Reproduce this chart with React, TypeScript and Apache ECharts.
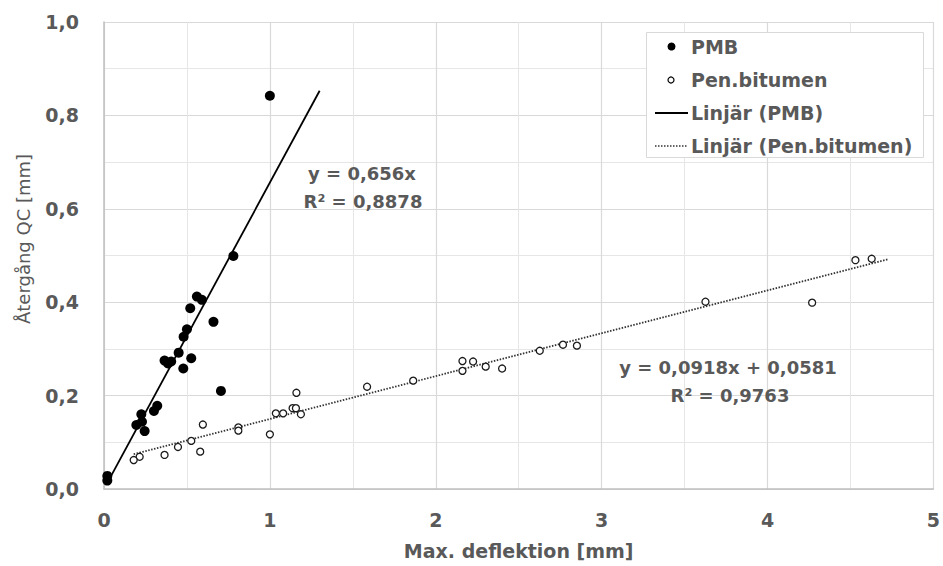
import React, { useEffect, useRef } from "react";
import * as echarts from "echarts";

// PMB observations [Max. deflektion, Återgång QC]
const pmbX = [1.0, 0.78, 0.56, 0.59, 0.52, 0.66, 0.5, 0.48, 0.45, 0.365, 0.405, 0.386, 0.526, 0.478, 0.705, 0.321, 0.301, 0.225, 0.229, 0.195, 0.245, 0.02, 0.02];
const pmbY = [0.842, 0.499, 0.412, 0.405, 0.387, 0.358, 0.342, 0.326, 0.292, 0.275, 0.273, 0.269, 0.28, 0.258, 0.21, 0.178, 0.167, 0.16, 0.144, 0.137, 0.124, 0.018, 0.028];

// Pen.bitumen observations
const penX = [0.596, 0.526, 0.446, 0.365, 0.215, 0.179, 0.58, 0.81, 0.81, 1.0, 1.036, 1.08, 1.137, 1.157, 1.16, 1.187, 1.586, 1.864, 2.161, 2.225, 2.161, 2.301, 2.4, 2.627, 2.767, 2.851, 3.626, 4.269, 4.53, 4.628];
const penY = [0.138, 0.103, 0.09, 0.073, 0.069, 0.062, 0.08, 0.132, 0.125, 0.117, 0.162, 0.162, 0.173, 0.173, 0.206, 0.16, 0.219, 0.232, 0.274, 0.273, 0.253, 0.262, 0.258, 0.296, 0.309, 0.307, 0.401, 0.399, 0.49, 0.493];

// Linear trend lines (slope, intercept, x range)
const pmbTrend = { slope: 0.656, intercept: 0, xFrom: 0.02, xTo: 1.3 };
const penTrend = { slope: 0.0918, intercept: 0.0581, xFrom: 0.179, xTo: 4.725 };

const seriesNames = ["PMB", "Pen.bitumen", "Linjär (PMB)", "Linjär (Pen.bitumen)"];
const xTicks = [0, 1, 2, 3, 4, 5];

const GRAY = "#595959";
const FONT = "'DejaVu Sans', sans-serif";

function trendData(t: { slope: number; intercept: number; xFrom: number; xTo: number }) {
  return [t.xFrom, t.xTo].map((x) => [x, t.slope * x + t.intercept]);
}

export default function App() {
  const ref = useRef<HTMLDivElement>(null);
  useEffect(() => {
    if (!ref.current) return;
    const chart = echarts.init(ref.current, undefined, { renderer: "svg" });
    chart.setOption({
      animation: false,
      backgroundColor: "#ffffff",
      textStyle: { fontFamily: FONT },
      grid: { left: 104, top: 22, width: 830, height: 467, containLabel: false },
      xAxis: {
        type: "value",
        min: xTicks[0],
        max: xTicks[xTicks.length - 1],
        interval: 1,
        name: "Max. deflektion [mm]",
        nameLocation: "middle",
        nameGap: 52,
        nameTextStyle: { color: GRAY, fontSize: 19, fontWeight: "bold", fontFamily: FONT },
        axisLine: { show: true, lineStyle: { color: "#bfbfbf", width: 1.5 } },
        axisTick: { show: false },
        axisLabel: { color: GRAY, fontSize: 19, fontWeight: "bold", margin: 21, fontFamily: FONT },
        splitLine: { show: true, lineStyle: { color: "#d9d9d9", width: 1.2 } },
        minorTick: { show: false, splitNumber: 2 },
        minorSplitLine: { show: true, lineStyle: { color: "#e6e6e6", width: 1 } },
      },
      yAxis: {
        type: "value",
        min: 0,
        max: 1,
        interval: 0.2,
        axisLine: { show: true, lineStyle: { color: "#bfbfbf", width: 1.5 } },
        axisTick: { show: false },
        axisLabel: {
          color: GRAY,
          fontSize: 19,
          fontWeight: "bold",
          margin: 25,
          fontFamily: FONT,
          formatter: (v: number) => v.toFixed(1).replace(".", ","),
        },
        splitLine: { show: true, lineStyle: { color: "#d9d9d9", width: 1.2 } },
        minorTick: { show: false, splitNumber: 2 },
        minorSplitLine: { show: true, lineStyle: { color: "#e6e6e6", width: 1 } },
      },
      legend: {
        orient: "vertical",
        left: 655,
        top: 37,
        padding: 0,
        itemWidth: 33,
        itemHeight: 8,
        itemGap: 14,
        z: 30,
        selectedMode: false,
        textStyle: { color: GRAY, fontSize: 19, fontWeight: "bold", fontFamily: FONT, padding: [0, 0, 0, -2] },
        data: [
          { name: seriesNames[0], icon: "circle", itemStyle: { color: "#000" } },
          { name: seriesNames[1], icon: "none" },
          { name: seriesNames[2], icon: "none" },
          { name: seriesNames[3], icon: "none" },
        ],
      },
      series: [
        {
          name: seriesNames[0],
          type: "scatter",
          symbol: "circle",
          symbolSize: 10,
          itemStyle: { color: "#000", opacity: 1 },
          data: pmbX.map((x, i) => [x, pmbY[i]]),
          z: 5,
        },
        {
          name: seriesNames[1],
          type: "scatter",
          symbol: "circle",
          symbolSize: 7,
          itemStyle: { color: "#fff", borderColor: "#1a1a1a", borderWidth: 1.3, opacity: 1 },
          data: penX.map((x, i) => [x, penY[i]]),
          z: 5,
        },
        {
          name: seriesNames[2],
          type: "line",
          symbol: "none",
          lineStyle: { color: "#000", width: 1.8, type: "solid" },
          itemStyle: { color: "#000" },
          data: trendData(pmbTrend),
          z: 4,
        },
        {
          name: seriesNames[3],
          type: "line",
          symbol: "none",
          lineStyle: { color: "#333", width: 1.8, type: [1.5, 1.5] },
          itemStyle: { color: "#333" },
          data: trendData(penTrend),
          z: 4,
        },
      ],
      graphic: [
        {
          type: "rect",
          left: 646,
          top: 32,
          shape: { width: 277, height: 125 },
          style: { fill: "#fff", stroke: "#d9d9d9", lineWidth: 1 },
          z: 1,
          silent: true,
        },
        {
          type: "circle",
          x: 671,
          y: 80,
          shape: { r: 3 },
          style: { fill: "#fff", stroke: "#000", lineWidth: 1.2 },
          z: 40,
          silent: true,
        },
        {
          type: "line",
          shape: { x1: 655, y1: 113, x2: 688, y2: 113 },
          style: { stroke: "#000", lineWidth: 1.8 },
          z: 40,
          silent: true,
        },
        {
          type: "line",
          shape: { x1: 655, y1: 146, x2: 688, y2: 146 },
          style: { stroke: "#333", lineWidth: 1.5, lineDash: [1.5, 1.5] },
          z: 40,
          silent: true,
        },
        {
          type: "text",
          x: 23,
          y: 239,
          rotation: Math.PI / 2,
          style: {
            text: "Återgång QC [mm]",
            fill: GRAY,
            font: `18px ${FONT}`,
            align: "center",
            verticalAlign: "middle",
          },
        },
        {
          type: "text",
          x: 362,
          y: 173,
          style: { text: "y = 0,656x", fill: GRAY, font: `bold 18px ${FONT}`, align: "center", verticalAlign: "middle" },
          z: 20,
        },
        {
          type: "text",
          x: 363,
          y: 201,
          style: { text: "R² = 0,8878", fill: GRAY, font: `bold 18px ${FONT}`, align: "center", verticalAlign: "middle" },
          z: 20,
        },
        {
          type: "text",
          x: 728,
          y: 367,
          style: { text: "y = 0,0918x + 0,0581", fill: GRAY, font: `bold 18px ${FONT}`, align: "center", verticalAlign: "middle" },
          z: 20,
        },
        {
          type: "text",
          x: 730,
          y: 395,
          style: { text: "R² = 0,9763", fill: GRAY, font: `bold 18px ${FONT}`, align: "center", verticalAlign: "middle" },
          z: 20,
        },
      ],
    });
    return () => chart.dispose();
  }, []);
  return (
    <div
      ref={ref}
      style={{ position: "fixed", left: 0, top: 0, width: 943, height: 566, background: "#fff" }}
    />
  );
}
